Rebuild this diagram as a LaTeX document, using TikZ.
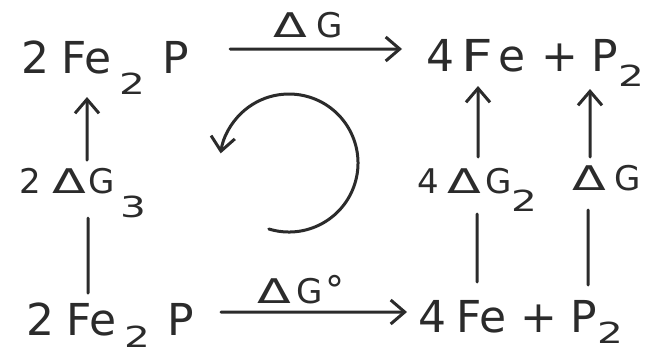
\documentclass[tikz,border=0pt]{standalone}
\usepackage{fontspec}
\usepackage{graphicx}
\setmainfont{DejaVu Sans}
\usetikzlibrary{arrows.meta}
\definecolor{ink}{HTML}{2B2B2B}
\newcommand\bigfs{\fontsize{44bp}{50bp}\selectfont}
\newcommand\labfs{\fontsize{34bp}{40bp}\selectfont}
\newcommand\sbs[2][21bp]{\raisebox{-#1}{\scalebox{1.4}[1]{\fontsize{29bp}{32bp}\selectfont #2}}}
\newcommand\Dlt{\scalebox{1.45}[1]{Δ}}
\begin{document}
\begin{tikzpicture}[x=1bp,y=-1bp,
  formula/.style={inner sep=0pt, anchor=base west, text=ink, font=\bigfs},
  lab/.style={inner sep=0pt, anchor=base west, text=ink, font=\labfs},
  ln/.style={draw=ink, line width=3bp, line cap=round},
  arr/.style={ln, -{Straight Barb[length=14bp,width=24bp]}}]
\useasboundingbox (0,0) rectangle (654,355);
\fill[white] (0,0) rectangle (654,355);
% formulas
\node[formula] (TL) at (21,73) {2\hspace{12bp}Fe\hspace{8bp}\sbs{2}\hspace{18bp}P};
\node[formula] (TR) at (426,71) {4\hspace{7bp}\scalebox{1.25}[1]{F}\hspace{6bp}e\hspace{16bp}+\hspace{13bp}P\hspace{0bp}\sbs[15bp]{2}};
\node[formula] (BL) at (26,335) {2\hspace{12bp}Fe\hspace{8bp}\sbs[12bp]{2}\hspace{18bp}P};
\node[formula] (BR) at (418,332) {4\hspace{10bp}Fe\hspace{14bp}+\hspace{14bp}P\hspace{0bp}\sbs[11bp]{2}};
% labels
\node[lab] (topdg) at (273,37) {\Dlt\hspace{10bp}G};
\node[lab] (botdg) at (257,303) {\Dlt\hspace{6bp}G\hspace{2bp}{\fontsize{38bp}{40bp}\selectfont °}};
\node[lab] (m3) at (19,193) {2\hspace{12bp}\Dlt\hspace{2bp}G\hspace{6bp}\sbs[24bp]{3}};
\node[lab] (m2) at (417,193) {4\hspace{9bp}\Dlt\hspace{4bp}G\sbs[18bp]{2}};
\node[lab] (m1) at (572,190) {\Dlt\hspace{9bp}G};
% horizontal arrows
\draw[arr] ([shift={(209bp,24bp)}]TL.base west) -- ([shift={(-24bp,22bp)}]TR.base west);
\draw[arr] ([shift={(195bp,23bp)}]BL.base west) -- ([shift={(-11bp,20bp)}]BR.base west);
% left column
\draw[ln] ([shift={(62bp,42bp)}]BL.base west) -- ([shift={(69bp,-25bp)}]m3.base west);
\draw[arr] ([shift={(68bp,33bp)}]m3.base west) -- ([shift={(66bp,-24bp)}]TL.base west);
% right column 1
\draw[ln] ([shift={(59bp,50bp)}]BR.base west) -- ([shift={(60bp,-21bp)}]m2.base west);
\draw[arr] ([shift={(61bp,36bp)}]m2.base west) -- ([shift={(52bp,-15bp)}]TR.base west);
% right column 2
\draw[ln] ([shift={(170bp,47bp)}]BR.base west) -- ([shift={(16bp,-20bp)}]m1.base west);
\draw[arr] ([shift={(18bp,33bp)}]m1.base west) -- ([shift={(164bp,-18bp)}]TR.base west);
% cycle arrow
\draw[arr] (289,163) ++(-107:69bp) arc[start angle=-107, end angle=172, radius=69bp];
\end{tikzpicture}
\end{document}
